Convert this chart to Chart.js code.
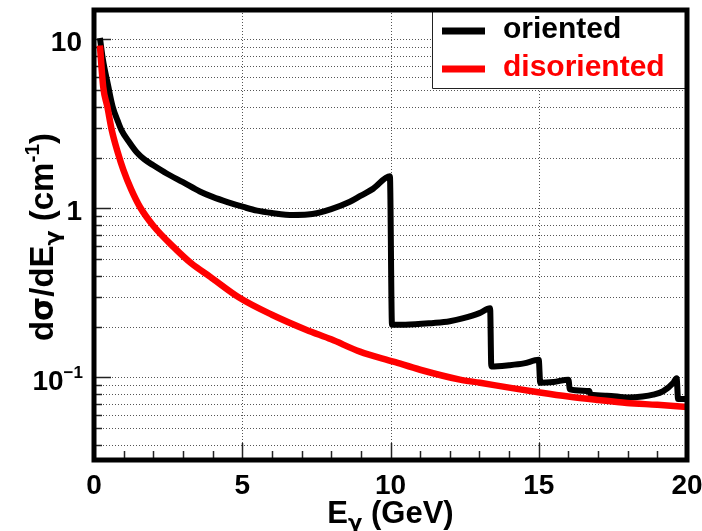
<!DOCTYPE html>
<html>
<head>
<meta charset="utf-8">
<title>dsigma/dE</title>
<script src="https://cdn.jsdelivr.net/npm/chart.js@4"></script>
<style>
  html, body { margin: 0; padding: 0; background: #fff; }
  canvas { display: block; }
</style>
</head>
<body>
<canvas id="myChart" width="702" height="531"></canvas>
<script>
// Photon energy (GeV) and cross section (cm^-1)
let orientedE = [0.2, 0.3, 0.47, 0.63, 0.8, 0.93, 1.2, 1.44, 1.7, 2.0, 2.45, 3.0, 3.57, 4.0, 4.5, 5.04, 5.5, 6.0, 6.72, 7.2, 7.51, 8.0, 8.63, 9.0, 9.42, 9.98,
                 10.05, 10.5, 11.45, 12.0, 12.46, 13.0, 13.36, 13.4, 14.0, 14.5, 15.0, 15.05, 15.5, 16.0, 16.05, 16.7, 16.75, 17.3, 18.0, 18.5, 18.86, 19.2, 19.54, 19.65, 19.7, 20.0];
let orientedXs = [10.2, 7.6, 5.4, 4.0, 3.3, 2.9, 2.45, 2.15, 1.95, 1.8, 1.61, 1.43, 1.26, 1.17, 1.09, 1.02, 0.97, 0.94, 0.915, 0.92, 0.936, 0.99, 1.095, 1.19, 1.31, 1.55,
                  0.205, 0.205, 0.21, 0.215, 0.224, 0.24, 0.257, 0.116, 0.118, 0.121, 0.127, 0.093, 0.094, 0.097, 0.085, 0.083, 0.079, 0.078, 0.076, 0.077, 0.079, 0.083, 0.093, 0.099, 0.0745, 0.0745];

let disorientedE = [0.2, 0.31, 0.45, 0.6, 0.8, 0.99, 1.25, 1.55, 2.0, 2.67, 3.3, 3.91, 4.92, 6.0, 7.17, 8.0, 8.97, 10.1, 11.0, 12.34, 13.02, 14.0, 15.04, 16.0, 17.0, 17.97, 19.0, 20.0];
let disorientedXs = [9.2, 5.25, 4.0, 2.9, 2.15, 1.69, 1.3, 1.02, 0.79, 0.594, 0.47, 0.395, 0.295, 0.235, 0.191, 0.168, 0.142, 0.124, 0.111, 0.097, 0.093, 0.087, 0.0814, 0.077, 0.0735, 0.0706, 0.0688, 0.0668];

// Axis ticks
let xTickLabels = [0, 5, 10, 15, 20];
let yTickLabels = [0.1, 1, 10];
let yMinorTicks = [0.04, 0.05, 0.06, 0.07, 0.08, 0.09, 0.2, 0.3, 0.4, 0.5, 0.6, 0.7, 0.8, 0.9, 2, 3, 4, 5, 6, 7, 8, 9];

const FONT = '"Liberation Sans", Arial, sans-serif';
const GREEK = '"DejaVu Sans", sans-serif';

function toPoints(xs, ys) {
    return xs.map((v, i) => ({ x: v, y: ys[i] }));
}

// draws a row of text pieces (for sub/superscripts)
function drawParts(ctx, parts, x, y, align) {
    let w = 0;
    parts.forEach(p => {
        ctx.font = 'bold ' + p.s + 'px ' + (p.f || FONT);
        p.w = ctx.measureText(p.t).width;
        w += p.w;
    });
    let cx = align === 'right' ? x - w : (align === 'center' ? x - w / 2 : x);
    ctx.textAlign = 'left';
    ctx.textBaseline = 'alphabetic';
    parts.forEach(p => {
        ctx.font = 'bold ' + p.s + 'px ' + (p.f || FONT);
        ctx.fillText(p.t, cx, y + (p.dy || 0));
        cx += p.w;
    });
}

function hline(ctx, x1, x2, y) {
    ctx.beginPath(); ctx.moveTo(x1, y); ctx.lineTo(x2, y); ctx.stroke();
}
function vline(ctx, x, y1, y2) {
    ctx.beginPath(); ctx.moveTo(x, y1); ctx.lineTo(x, y2); ctx.stroke();
}

const rootStyle = {
    id: 'rootStyle',
    beforeDatasetsDraw(chart) {
        const ctx = chart.ctx, a = chart.chartArea;
        const x = chart.scales.x, y = chart.scales.y;
        ctx.save();
        // dotted grid
        ctx.strokeStyle = '#555';
        ctx.lineWidth = 1;
        ctx.setLineDash([1, 2]);
        yTickLabels.concat(yMinorTicks).forEach(v => {
            hline(ctx, a.left, a.right, Math.round(y.getPixelForValue(v)) + 0.5);
        });
        xTickLabels.forEach(v => {
            vline(ctx, Math.round(x.getPixelForValue(v)) + 0.5, a.top, a.bottom);
        });
        ctx.setLineDash([]);
        // ticks inside the frame
        ctx.strokeStyle = '#222';
        ctx.lineWidth = 1.5;
        yTickLabels.forEach(v => hline(ctx, a.left, a.left + 17, Math.round(y.getPixelForValue(v)) + 0.5));
        yMinorTicks.forEach(v => hline(ctx, a.left, a.left + 8, Math.round(y.getPixelForValue(v)) + 0.5));
        for (let v = x.min; v <= x.max; v++) {
            const len = xTickLabels.includes(v) ? 17 : 9;
            vline(ctx, Math.round(x.getPixelForValue(v)) + 0.5, a.bottom, a.bottom - len);
        }
        ctx.restore();
    },
    afterDatasetsDraw(chart) {
        const ctx = chart.ctx, a = chart.chartArea;
        const x = chart.scales.x, y = chart.scales.y;
        ctx.save();

        // legend box in the top right corner
        const lx = 432, ly = 88;
        ctx.fillStyle = '#fff';
        ctx.fillRect(lx, a.top, a.right - lx, ly - a.top);
        ctx.strokeStyle = '#222';
        ctx.lineWidth = 1;
        ctx.beginPath();
        ctx.moveTo(lx + 0.5, a.top); ctx.lineTo(lx + 0.5, ly + 0.5); ctx.lineTo(a.right, ly + 0.5);
        ctx.stroke();
        chart.data.datasets.forEach((ds, i) => {
            const cy = 31 + i * 38;
            ctx.strokeStyle = ds.borderColor;
            ctx.lineWidth = 7;
            hline(ctx, 442, 485, cy);
            ctx.fillStyle = ds.borderColor;
            ctx.font = 'bold 30px ' + FONT;
            ctx.textAlign = 'left';
            ctx.textBaseline = 'alphabetic';
            ctx.fillText(ds.label, 503, cy + 7);
        });

        // frame
        ctx.strokeStyle = '#000';
        ctx.lineWidth = 5;
        ctx.strokeRect(a.left, a.top, a.right - a.left, a.bottom - a.top);

        // tick labels
        ctx.fillStyle = '#000';
        xTickLabels.forEach(v => {
            drawParts(ctx, [{ t: String(v), s: 28 }], x.getPixelForValue(v), 494, 'center');
        });
        yTickLabels.forEach(v => {
            const e = Math.round(Math.log10(v));
            const py = y.getPixelForValue(v);
            if (e >= 0) {
                drawParts(ctx, [{ t: String(v), s: 28 }], 82, py + 12, 'right');
            } else {
                drawParts(ctx, [{ t: '10', s: 28 }, { t: '\u2212' + (-e), s: 17, dy: -12 }], 83, py + 13, 'right');
            }
        });

        // axis titles
        drawParts(ctx, [{ t: 'E', s: 31 }, { t: '\u03b3', s: 21, dy: 7, f: GREEK }, { t: ' (GeV)', s: 31 }],
                  (a.left + a.right) / 2, 523, 'center');
        ctx.translate(53, (a.top + a.bottom) / 2 + 2);
        ctx.rotate(-Math.PI / 2);
        drawParts(ctx, [{ t: 'd', s: 33 }, { t: '\u03c3', s: 31, f: GREEK }, { t: '/dE', s: 33 },
                        { t: '\u03b3', s: 22, dy: 7, f: GREEK }, { t: ' (cm', s: 33 },
                        { t: '-1', s: 21, dy: -14 }, { t: ')', s: 33 }], 0, 0, 'center');
        ctx.restore();
    }
};

ctx = document.getElementById('myChart').getContext('2d');
myChart = new Chart(ctx, {
    type: 'line',
    data: {
        datasets: [{
            label: 'oriented',
            data: toPoints(orientedE, orientedXs),
            borderColor: '#000000',
            borderWidth: 6,
            pointRadius: 0,
            cubicInterpolationMode: 'monotone',
            order: 1
        }, {
            label: 'disoriented',
            data: toPoints(disorientedE, disorientedXs),
            borderColor: '#ff0000',
            borderWidth: 6.5,
            pointRadius: 0,
            cubicInterpolationMode: 'monotone',
            order: 0
        }]
    },
    options: {
        responsive: false,
        animation: false,
        devicePixelRatio: 1,
        layout: { padding: { left: 0, right: 15, top: 10, bottom: 0 } },
        plugins: { legend: { display: false }, tooltip: { enabled: false } },
        scales: {
            x: {
                type: 'linear',
                min: 0,
                max: 20,
                grid: { display: false },
                border: { display: false },
                ticks: { display: false },
                afterFit(scale) { scale.height = 71; }
            },
            y: {
                type: 'logarithmic',
                min: 0.03245,
                max: 14.94,
                grid: { display: false },
                border: { display: false },
                ticks: { display: false },
                afterFit(scale) { scale.width = 94; }
            }
        }
    },
    plugins: [rootStyle]
});
</script>
</body>
</html>
